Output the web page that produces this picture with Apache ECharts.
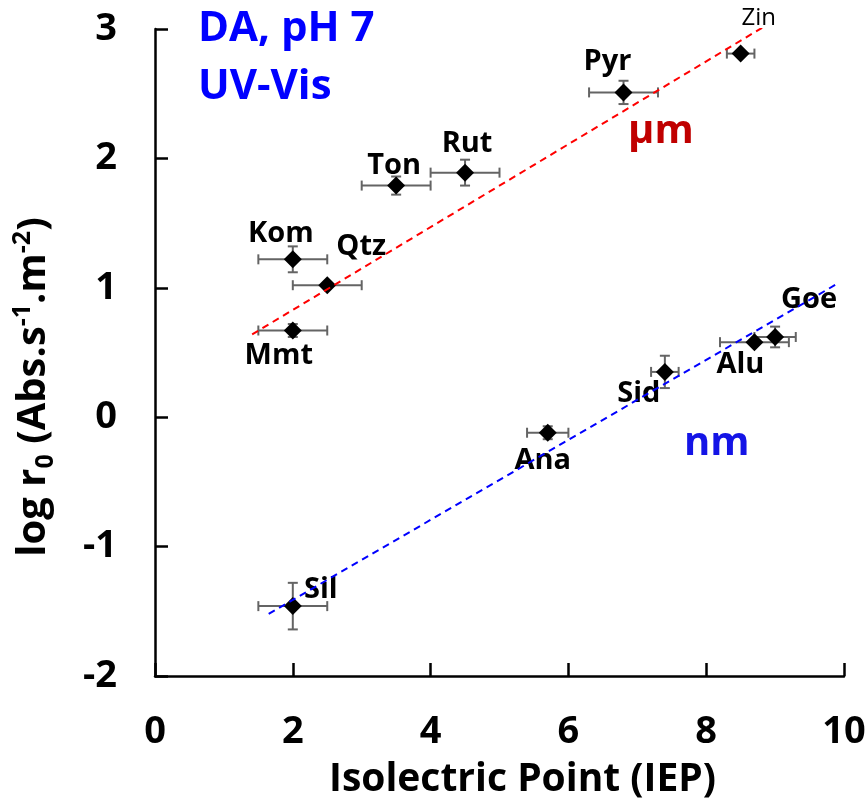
<!DOCTYPE html>
<html>
<head>
<meta charset="utf-8">
<script src="https://cdn.jsdelivr.net/npm/echarts@6/dist/echarts.min.js"></script>
<style>
  html, body { margin: 0; padding: 0; background: #fff; }
  #myChart { width: 868px; height: 811px; }
</style>
</head>
<body>
<div id="myChart"></div>
<script>
// minerals, IEP and log r0
var names = ['Kom', 'Qtz', 'Mmt', 'Ton', 'Rut', 'Pyr', 'Zin', 'Sil', 'Ana', 'Sid', 'Alu', 'Goe'];
var iep = [2.0, 2.5, 2.0, 3.5, 4.5, 6.8, 8.5, 2.0, 5.7, 7.4, 8.7, 9.0];
var logR0 = [1.22, 1.02, 0.67, 1.79, 1.89, 2.51, 2.81, -1.46, -0.12, 0.35, 0.58, 0.62];
var iepErr = [0.5, 0.5, 0.5, 0.5, 0.5, 0.5, 0.2, 0.5, 0.3, 0.2, 0.5, 0.3];
var logErr = [0.1, 0, 0.05, 0.07, 0.1, 0.09, 0, 0.18, 0.05, 0.125, 0, 0.08];

// dashed trend lines (end points)
var umTrend = [[1.41, 0.64], [9.0, 3.07]];
var nmTrend = [[1.65, -1.52], [9.93, 1.04]];

var xTicks = [0, 2, 4, 6, 8, 10];
var yTicks = [-2, -1, 0, 1, 2, 3];

var FONT = 'Open Sans';

// label offset from the marker centre, px
var labelOffset = {
  Kom: [-12, -26], Qtz: [34, -38], Mmt: [-14, 25], Ton: [-2, -20],
  Rut: [2, -29], Pyr: [-16, -31], Zin: [18, -35], Sil: [28, -16],
  Ana: [-5, 28], Sid: [-26, 22], Alu: [-14, 23], Goe: [34, -37]
};

var chart = echarts.init(document.getElementById('myChart'), null, { renderer: 'canvas' });

var points = names.map(function (n, i) {
  var item = { name: n, value: [iep[i], logR0[i]] };
  item.label = { offset: labelOffset[n] };
  if (n === 'Zin') {
    item.label.fontWeight = 'normal';
    item.label.fontSize = 24;
  }
  return item;
});

var errData = names.map(function (n, i) {
  return [iep[i], logR0[i], iepErr[i], logErr[i]];
});

function renderErr(params, api) {
  var x = api.value(0), y = api.value(1), ex = api.value(2), ey = api.value(3);
  var cap = 5;
  var style = { stroke: '#646464', lineWidth: 2 };
  var kids = [];
  var l = api.coord([x - ex, y]), r = api.coord([x + ex, y]);
  kids.push({ type: 'line', shape: { x1: l[0], y1: l[1], x2: r[0], y2: r[1] }, style: style });
  kids.push({ type: 'line', shape: { x1: l[0], y1: l[1] - cap, x2: l[0], y2: l[1] + cap }, style: style });
  kids.push({ type: 'line', shape: { x1: r[0], y1: r[1] - cap, x2: r[0], y2: r[1] + cap }, style: style });
  if (ey > 0) {
    var t = api.coord([x, y + ey]), b = api.coord([x, y - ey]);
    kids.push({ type: 'line', shape: { x1: t[0], y1: t[1], x2: b[0], y2: b[1] }, style: style });
    kids.push({ type: 'line', shape: { x1: t[0] - cap, y1: t[1], x2: t[0] + cap, y2: t[1] }, style: style });
    kids.push({ type: 'line', shape: { x1: b[0] - cap, y1: b[1], x2: b[0] + cap, y2: b[1] }, style: style });
  }
  return { type: 'group', children: kids };
}

var option = {
  backgroundColor: '#fff',
  animation: false,
  textStyle: { fontFamily: FONT },
  grid: { left: 155, right: 24, top: 29, bottom: 135, containLabel: false, outerBoundsMode: 'none' },
  xAxis: {
    type: 'value',
    min: xTicks[0], max: xTicks[xTicks.length - 1], interval: 2,
    name: 'Isolectric Point (IEP)',
    nameLocation: 'middle',
    nameGap: 84,
    nameTextStyle: { fontFamily: FONT, fontSize: 39, fontWeight: 'bold', color: '#000', padding: [0, 0, 0, 46] },
    axisLine: { onZero: false, lineStyle: { color: '#000', width: 2.5 } },
    axisTick: { inside: true, length: 13, lineStyle: { color: '#000', width: 2.5 } },
    axisLabel: { fontFamily: FONT, fontSize: 38, fontWeight: 'bold', color: '#000', margin: 37 },
    splitLine: { show: false }
  },
  yAxis: {
    type: 'value',
    min: yTicks[0], max: yTicks[yTicks.length - 1], interval: 1,
    name: '{a|log r}{s|0}{a| (Abs.s}{p|-1}{a|.m}{p|-2}{a|)}',
    nameLocation: 'middle',
    nameRotate: 90,
    nameGap: 97,
    nameTextStyle: {
      fontFamily: FONT, fontSize: 40, fontWeight: 'bold', color: '#000',
      padding: [0, 69, 0, 0],
      rich: {
        a: { fontFamily: FONT, fontSize: 40, fontWeight: 'bold', color: '#000', lineHeight: 48 },
        s: { fontFamily: FONT, fontSize: 25, fontWeight: 'bold', color: '#000', lineHeight: 27, verticalAlign: 'bottom' },
        p: { fontFamily: FONT, fontSize: 25, fontWeight: 'bold', color: '#000', lineHeight: 27, verticalAlign: 'top' }
      }
    },
    axisLine: { onZero: false, lineStyle: { color: '#000', width: 2.5 } },
    axisTick: { inside: true, length: 13, lineStyle: { color: '#000', width: 2.5 } },
    axisLabel: { fontFamily: FONT, fontSize: 38, fontWeight: 'bold', color: '#000', margin: 38 },
    splitLine: { show: false }
  },
  series: [
    {
      type: 'custom',
      name: 'err',
      renderItem: renderErr,
      data: errData,
      z: 2,
      silent: true
    },
    {
      type: 'scatter',
      name: 'points',
      symbol: 'diamond',
      symbolSize: 18,
      itemStyle: { color: '#000', opacity: 1 },
      data: points,
      z: 3,
      label: {
        show: true,
        position: 'inside',
        formatter: '{b}',
        fontFamily: FONT,
        fontSize: 29,
        fontWeight: 'bold',
        color: '#000',
        opacity: 1
      }
    },
    {
      type: 'line',
      name: 'µm',
      data: umTrend,
      showSymbol: false,
      symbol: 'none',
      z: 5,
      lineStyle: { color: '#ff0000', width: 2, type: [7, 5] }
    },
    {
      type: 'line',
      name: 'nm',
      data: nmTrend,
      showSymbol: false,
      symbol: 'none',
      z: 5,
      lineStyle: { color: '#0000ff', width: 2, type: [7, 5] }
    }
  ],
  graphic: [
    { type: 'text', left: 198, top: 8, z: 10,
      style: { text: 'DA, pH 7', fontFamily: FONT, fontSize: 42, fontWeight: 'bold', fill: '#0000ff' } },
    { type: 'text', left: 198, top: 66, z: 10,
      style: { text: 'UV-Vis', fontFamily: FONT, fontSize: 42, fontWeight: 'bold', fill: '#0000ff' } },
    { type: 'text', left: 628, top: 112, z: 10,
      style: { text: 'µm', fontFamily: FONT, fontSize: 40, fontWeight: 'bold', fill: '#c00000' } },
    { type: 'text', left: 684, top: 424, z: 10,
      style: { text: 'nm', fontFamily: FONT, fontSize: 40, fontWeight: 'bold', fill: '#1414e6' } }
  ]
};

chart.setOption(option);
</script>
</body>
</html>
